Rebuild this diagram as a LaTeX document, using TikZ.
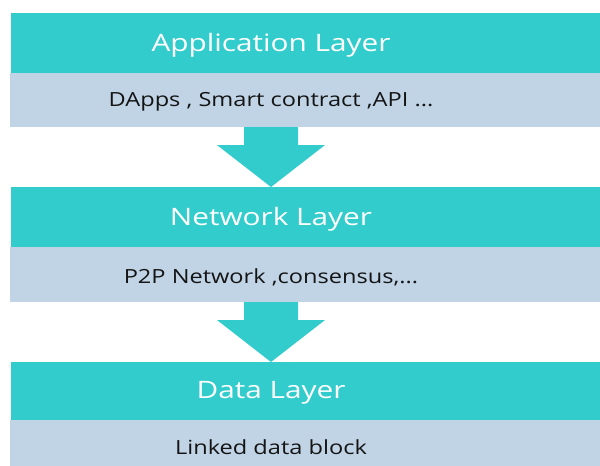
\documentclass[tikz,border=0pt]{standalone}
\usepackage{fontspec}
\setmainfont{Open Sans}
\usetikzlibrary{calc}
\definecolor{layerteal}{RGB}{51,204,204}
\definecolor{descblue}{RGB}{192,212,230}
\definecolor{desctext}{RGB}{20,20,20}
\begin{document}
\begin{tikzpicture}[x=1pt,y=-1pt,
  layerbox/.style={fill=layerteal, draw=none, minimum width=589pt, anchor=north west, inner sep=0pt, outer sep=0pt},
  descbox/.style={fill=descblue, draw=none, minimum width=590pt, anchor=north west, inner sep=0pt, outer sep=0pt},
  titletext/.style={text=white, font=\fontsize{24}{28}\selectfont, inner sep=0pt, xscale=1.24, transform shape},
  desctext/.style={text=desctext, font=\fontsize{19.5}{23}\selectfont, inner sep=0pt, xscale=1.21, transform shape},
  flow/.style={fill=layerteal, draw=none}]
\useasboundingbox (0,0) rectangle (600,466);

% Application layer
\node[layerbox, minimum height=60pt] (app) at (11,13) {};
\node[descbox, minimum height=54pt] (appd) at (10,73) {};
\node[titletext] (appl) at (271,45) {Application Layer};
\node[desctext] (appdl) at (271,102) {DApps , Smart contract ,API ...};

% Network layer
\node[layerbox, minimum height=60pt] (net) at (11,187) {};
\node[descbox, minimum height=55pt] (netd) at (10,247) {};
\node[titletext] (netl) at (271,219) {Network Layer};
\node[desctext] (netdl) at (271,277) {P2P Network ,consensus,...};

% Data layer
\node[layerbox, minimum height=58pt] (dat) at (11,362) {};
\node[descbox, minimum height=46pt] (datd) at (10,420) {};
\node[titletext] (datl) at (271,393) {Data Layer};
\node[desctext] (datdl) at (271,447) {Linked data block};

% Arrows
\fill[flow] ($(appl |- appd.south)+(-27,0)$) -- ++(0,18) -- ++(-27,0)
  -- (appl |- net.north) -- ++(54,-42) -- ++(-27,0) -- ++(0,-18) -- cycle;
\fill[flow] ($(netl |- netd.south)+(-27,0)$) -- ++(0,18) -- ++(-27,0)
  -- (netl |- dat.north) -- ++(54,-42) -- ++(-27,0) -- ++(0,-18) -- cycle;
\end{tikzpicture}
\end{document}
